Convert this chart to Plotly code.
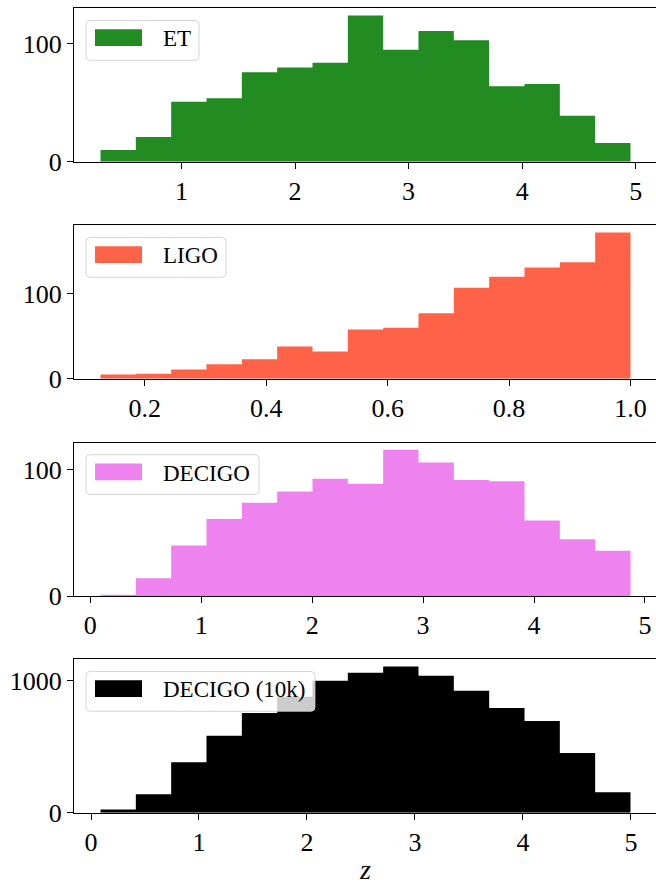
import numpy as np
import plotly.graph_objects as go
from plotly.subplots import make_subplots

# ---------------- data ----------------
labels = ["ET", "LIGO", "DECIGO", "DECIGO (10k)"]
colors = ["#228B22", "#FF6347", "#EE82EE", "#000000"]

et_counts = [10, 21, 51, 54, 76, 80, 84, 124, 95, 111, 103, 64, 66, 39, 16]
et_zrange = [0.288, 4.953]

ligo_counts = [5, 6, 11, 17, 23, 38, 32, 58, 60, 77, 107, 120, 131, 137, 172]
ligo_zrange = [0.127, 1.0]

decigo_counts = [1, 14, 40, 61, 74, 83, 93, 89, 116, 106, 92, 91, 60, 45, 36]
decigo_zrange = [0.092, 4.870]

decigo10k_counts = [25, 140, 383, 584, 756, 878, 1000, 1061, 1107, 1038, 924, 794, 695, 452, 155]
decigo10k_zrange = [0.088, 4.996]

x_tickvals = [[1, 2, 3, 4, 5], [0.2, 0.4, 0.6, 0.8, 1.0], [0, 1, 2, 3, 4, 5], [0, 1, 2, 3, 4, 5]]
x_ticktext = [["1", "2", "3", "4", "5"], ["0.2", "0.4", "0.6", "0.8", "1.0"],
              ["0", "1", "2", "3", "4", "5"], ["0", "1", "2", "3", "4", "5"]]
y_tickvals = [[0, 100], [0, 100], [0, 100], [0, 1000]]
x_label = "z"

all_counts = [et_counts, ligo_counts, decigo_counts, decigo10k_counts]
all_ranges = [et_zrange, ligo_zrange, decigo_zrange, decigo10k_zrange]

# ---------------- layout geometry (pixels) ----------------
W, H = 656, 887
L, R = 74, 0
plot_w = W - L - R
panel_tops = [8.3, 225.3, 442.5, 659.3]
panel_h = 153.5
legend_right = [199, 226, 259, 315]
FONT = "Liberation Serif"

def px_x(p):
    return (p - L) / plot_w

def px_y(p):
    return 1 - p / H

fig = make_subplots(rows=4, cols=1)

for i in range(4):
    counts = list(all_counts[i])
    lo, hi = all_ranges[i]
    n = len(counts)
    edges = np.linspace(lo, hi, n + 1)
    # histogram drawn as a single step outline filled down to zero
    fig.add_trace(
        go.Scatter(x=edges, y=counts + [counts[-1]], mode="lines",
                   line=dict(shape="hv", width=0, color=colors[i]),
                   fill="tozeroy", fillcolor=colors[i],
                   name=labels[i], showlegend=False, hoverinfo="skip"),
        row=i + 1, col=1)

    span = hi - lo
    xlo = lo - 0.05 * span
    xhi = hi + 0.05 * span
    # matplotlib axes reach one pixel past the image edge
    xhi = xlo + (xhi - xlo) * plot_w / (plot_w + 1)
    ymax = 1.05 * max(counts)

    top = panel_tops[i]
    bot = top + panel_h
    axn = "" if i == 0 else str(i + 1)
    fig.layout["yaxis" + axn].update(
        domain=[px_y(bot), px_y(top)], range=[0, ymax], automargin=False,
        tickvals=y_tickvals[i], ticks="outside", ticklen=6, tickwidth=1,
        tickcolor="black", showline=True, linecolor="black", linewidth=1.1,
        mirror=True, showgrid=False, zeroline=False,
        tickfont=dict(family=FONT, size=26, color="black"))
    fig.layout["xaxis" + axn].update(
        domain=[0, 1], range=[xlo, xhi], automargin=False,
        tickvals=x_tickvals[i], ticktext=x_ticktext[i],
        ticks="outside", ticklen=6, tickwidth=1, tickcolor="black",
        showline=True, linecolor="black", linewidth=1.1, mirror=True,
        showgrid=False, zeroline=False,
        tickfont=dict(family=FONT, size=26, color="black"))

    # legend drawn by hand (matplotlib-style box)
    bx0, bx1 = 86, legend_right[i]
    by0, by1 = top + 12.2, top + 52.0
    r = 4
    rx, ry = r / plot_w, r / H
    x0, x1 = px_x(bx0), px_x(bx1)
    y0, y1 = px_y(by1), px_y(by0)
    path = (f"M{x0+rx},{y1} L{x1-rx},{y1} Q{x1},{y1} {x1},{y1-ry} "
            f"L{x1},{y0+ry} Q{x1},{y0} {x1-rx},{y0} L{x0+rx},{y0} "
            f"Q{x0},{y0} {x0},{y0+ry} L{x0},{y1-ry} Q{x0},{y1} {x0+rx},{y1} Z")
    fig.add_shape(type="path", path=path, xref="paper", yref="paper",
                  fillcolor="rgba(255,255,255,0.8)",
                  line=dict(color="rgba(204,204,204,0.8)", width=1), layer="above")
    fig.add_shape(type="rect", xref="paper", yref="paper",
                  x0=px_x(95), x1=px_x(142), y0=px_y(top + 37.8), y1=px_y(top + 21.0),
                  fillcolor=colors[i], line=dict(width=0), layer="above")
    fig.add_annotation(x=px_x(161), y=px_y(top + 30.5), xref="paper", yref="paper",
                       text=labels[i], showarrow=False, xanchor="left", yanchor="middle",
                       font=dict(family=FONT, size=23, color="black"))

fig.add_annotation(x=px_x(365), y=px_y(869.5), xref="paper", yref="paper",
                   text="<i>" + x_label + "</i>", showarrow=False,
                   xanchor="center", yanchor="middle", borderpad=0,
                   font=dict(family=FONT, size=28, color="black"))

fig.update_layout(width=W, height=H, margin=dict(l=L, r=R, t=0, b=0, autoexpand=False),
                  plot_bgcolor="white", paper_bgcolor="white")

fig.write_html("out.html", config={"displayModeBar": False},
               post_script="document.body.style.margin='0';document.body.style.overflow='hidden';")
